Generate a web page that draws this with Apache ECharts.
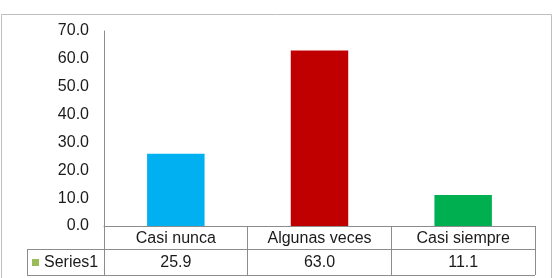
<!DOCTYPE html>
<html>
<head>
<meta charset="utf-8">
<script src="https://cdn.jsdelivr.net/npm/echarts@6/dist/echarts.min.js"></script>
<style>html,body{margin:0;padding:0;background:#fff;}#c{width:554px;height:278px;}</style>
</head>
<body>
<div id="c"></div>
<script>
const categories = ['Casi nunca', 'Algunas veces', 'Casi siempre'];
const values = [25.9, 63.0, 11.1];
const barColors = ['#00B0F0', '#C00000', '#00B050'];
const seriesName = 'Series1';
const legendColor = '#9BBB59';
const yMin = 0, yMax = 70, yStep = 10;

const FONT = 'Liberation Sans, Arial, sans-serif';
const TXT = '#1a1a1a';
const LINE = '#8c8c8c';

const chart = echarts.init(document.getElementById('c'), null, {renderer: 'canvas'});
chart.setOption({
  animation: false,
  grid: {left: 104, right: 19, top: 31, bottom: 52},
  xAxis: {
    type: 'category',
    data: categories,
    boundaryGap: true,
    axisLine: {show: true, lineStyle: {color: LINE, width: 1}},
    axisTick: {show: true, length: 49, lineStyle: {color: LINE, width: 1}},
    axisLabel: {show: true, margin: 5, fontSize: 16, fontFamily: FONT, color: TXT}
  },
  yAxis: {
    type: 'value', min: yMin, max: yMax, interval: yStep,
    axisLine: {show: true, lineStyle: {color: LINE, width: 1}},
    axisTick: {show: false},
    splitLine: {show: false},
    axisLabel: {margin: 15, fontSize: 16, fontFamily: FONT, color: TXT,
      formatter: v => v.toFixed(1)}
  },
  series: [{
    name: seriesName,
    type: 'bar',
    barWidth: '40%',
    data: values.map((v, i) => ({value: v, itemStyle: {color: barColors[i]}}))
  }]
});

// data table below axis
const y0 = chart.convertToPixel({yAxisIndex: 0}, 0);
const rowH = 24.5;
const xStart = chart.convertToPixel({xAxisIndex: 0}, categories[0]);
const xEnd = chart.convertToPixel({xAxisIndex: 0}, categories[categories.length - 1]);
const catW = categories.length > 1 ? (xEnd - xStart) / (categories.length - 1) : 144;
const leftX = xStart - catW / 2;
const rightX = xEnd + catW / 2;
const legendLeft = 27;
const r1 = Math.round(y0 + 23) + 0.5;
const r2 = Math.round(y0 + 49) + 0.5;

const g = [];
g.push({type: 'rect', shape: {x: 1.5, y: 14.5, width: 550, height: 280},
  style: {fill: 'none', stroke: '#bfbfbf', lineWidth: 1}, z: 0});
g.push({type: 'line', shape: {x1: legendLeft, y1: r1, x2: rightX, y2: r1}, style: {stroke: LINE, lineWidth: 1}});
g.push({type: 'line', shape: {x1: legendLeft, y1: r2, x2: rightX, y2: r2}, style: {stroke: LINE, lineWidth: 1}});
g.push({type: 'line', shape: {x1: legendLeft + 0.5, y1: r1, x2: legendLeft + 0.5, y2: r2}, style: {stroke: LINE, lineWidth: 1}});
g.push({type: 'rect', shape: {x: 32, y: (r1 + r2) / 2 - 3.5, width: 7, height: 7}, style: {fill: legendColor}});
g.push({type: 'text', x: 44, y: (r1 + r2) / 2 + 0.5,
  style: {text: seriesName, fontSize: 16, fontFamily: FONT, fill: TXT, textAlign: 'left', textVerticalAlign: 'middle'}});
values.forEach((v, i) => {
  const cx = chart.convertToPixel({xAxisIndex: 0}, categories[i]);
  g.push({type: 'text', x: cx, y: (r1 + r2) / 2 + 0.5,
    style: {text: v.toFixed(1), fontSize: 16, fontFamily: FONT, fill: TXT, textAlign: 'center', textVerticalAlign: 'middle'}});
});
chart.setOption({graphic: g});
</script>
</body>
</html>
